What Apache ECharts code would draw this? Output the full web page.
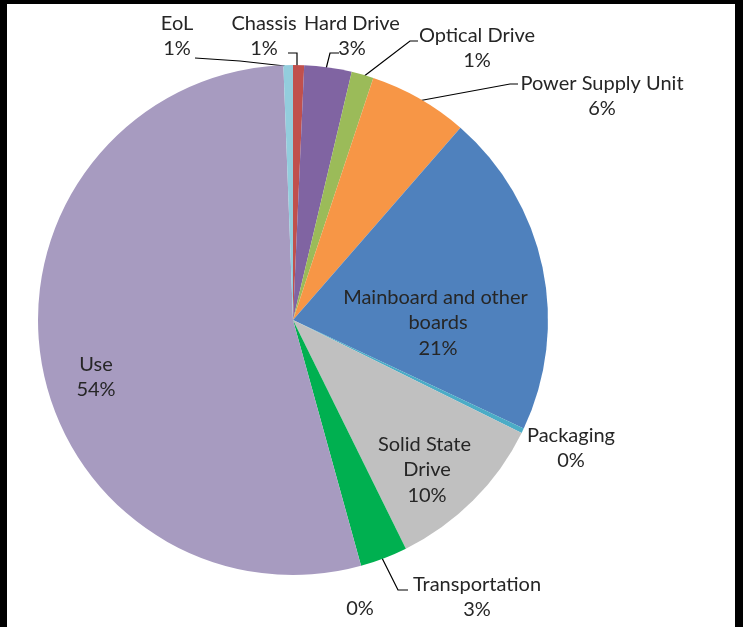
<!DOCTYPE html>
<html>
<head>
<meta charset="utf-8">
<script src="https://cdn.jsdelivr.net/npm/echarts@6/dist/echarts.min.js"></script>
<style>
html,body{margin:0;padding:0;background:#fff;}
#frame{position:absolute;left:0;top:0;width:743px;height:627px;box-sizing:border-box;border-left:7px solid #000;border-top:4px solid #000;border-right:8px solid #000;background:#fff;}
#chart{position:absolute;left:0;top:0;width:743px;height:627px;}
</style>
</head>
<body>
<div id="frame"></div>
<div id="chart"></div>
<script>
// Data (percent share of life-cycle impact)
const categories = ['Chassis','Hard Drive','Optical Drive','Power Supply Unit','Mainboard and other boards','Packaging','Solid State Drive','Transportation','','Use','EoL'];
const values = [0.7, 3.0, 1.4, 6.3, 20.6, 0.3, 10.4, 3.0, 0, 53.7, 0.6];
const colors = ['#C0504D','#8064A2','#9BBB59','#F79646','#4F81BD','#4BACC6','#C0C0C0','#00B050','#7F7F7F','#A79BC0','#93CDDD'];

// label placement (styling, not data)
const insideLabels = {'Mainboard and other boards':205,'Solid State Drive':120,'Use':80};
const noLine = {'Packaging':1,'':1};
const labelPos = {
  'EoL':[177,36], 'Chassis':[264,36], 'Hard Drive':[352,36], 'Optical Drive':[477,48],
  'Power Supply Unit':[602,96], 'Mainboard and other boards':[438,323], 'Packaging':[571,448],
  'Solid State Drive':[427,470], 'Transportation':[477,597], '':[360,609], 'Use':[96,377]
};
const linePts = {
  'EoL':[[285,66],[240,61],[195,58]],
  'Chassis':[[297,66],[297,53],[288,53]],
  'Hard Drive':[[326,69],[330,53],[339,53]],
  'Optical Drive':[[363,77],[410,41],[418,41]],
  'Power Supply Unit':[[418,101],[510,84],[518,84]],
  'Transportation':[[382,558],[398,590],[408,590]]
};

const FONT = 'Lato';
const data = categories.map((c,i)=>{
  const d = {name:c, value:values[i], itemStyle:{color:colors[i]}};
  if (insideLabels[c]) {
    d.label = {position:'inside', width:insideLabels[c], overflow:'break'};
    d.labelLine = {show:false};
  } else if (noLine[c]) {
    d.labelLine = {show:false};
  }
  return d;
});

const chart = echarts.init(document.getElementById('chart'), null, {renderer:'canvas'});
chart.setOption({
  backgroundColor:'transparent',
  animation:false,
  series:[{
    type:'pie',
    center:[293,320],
    radius:255,
    startAngle:90,
    clockwise:true,
    avoidLabelOverlap:false,
    stillShowZeroSum:true,
    data:data,
    itemStyle:{borderWidth:0},
    label:{
      show:true,
      position:'outside',
      fontFamily:FONT,
      fontSize:20,
      lineHeight:25.5,
      color:'#262626',
      align:'center',
      formatter:function(p){
        const pct = Math.round(p.value) + '%';
        return p.name ? p.name + '\n' + pct : pct;
      }
    },
    labelLine:{show:true, lineStyle:{color:'#000', width:1.2}},
    labelLayout:function(params){
      const name = categories[params.dataIndex];
      const pos = labelPos[name];
      const out = {x:pos[0], y:pos[1], align:'center', verticalAlign:'middle'};
      if (linePts[name]) out.labelLinePoints = linePts[name];
      return out;
    }
  }]
});
</script>
</body>
</html>
